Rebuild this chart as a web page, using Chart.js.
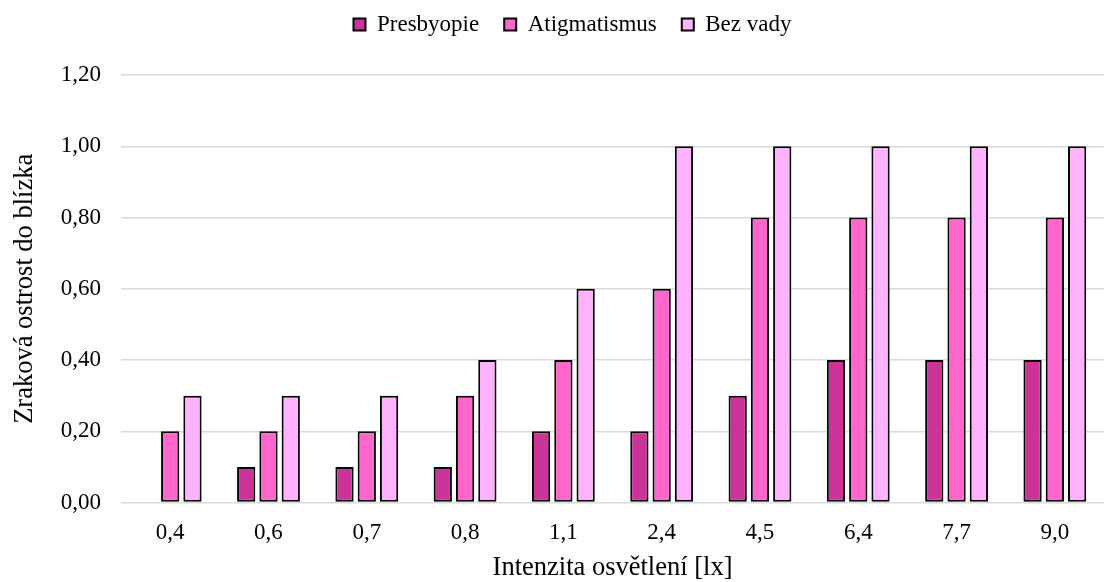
<!DOCTYPE html>
<html>
<head>
<meta charset="utf-8">
<script src="https://cdn.jsdelivr.net/npm/chart.js@4/dist/chart.umd.min.js"></script>
<style>
  html, body { margin: 0; padding: 0; background: #fff; }
  #wrap { width: 1112px; height: 582px; }
</style>
</head>
<body>
<div id="wrap"><canvas id="chart"></canvas></div>
<script>
// --- Data ---
const categories = ['0,4', '0,6', '0,7', '0,8', '1,1', '2,4', '4,5', '6,4', '7,7', '9,0'];
const presbyopie = [0, 0.1, 0.1, 0.1, 0.2, 0.2, 0.3, 0.4, 0.4, 0.4];
const atigmatismus = [0.2, 0.2, 0.2, 0.3, 0.4, 0.6, 0.8, 0.8, 0.8, 0.8];
const bezVady = [0.3, 0.3, 0.3, 0.4, 0.6, 1.0, 1.0, 1.0, 1.0, 1.0];

const FONT = "'Liberation Serif', 'Times New Roman', serif";

const makeSet = (label, data, color) => ({
    label: label,
    data: data,
    backgroundColor: color,
    borderColor: '#000',
    borderWidth: 2,
    borderSkipped: false,
    categoryPercentage: 0.68,
    barPercentage: 0.82
});

// extra space below the legend, and nudge it a bit to the right
const legendMargin = {
    id: 'legendMargin',
    beforeInit(chart) {
        const fit = chart.legend.fit;
        chart.legend.fit = function () {
            fit.bind(chart.legend)();
            this.height += 29;
        };
    },
    afterLayout(chart) {
        chart.legend.left += 16;
        chart.legend.right += 16;
    }
};

new Chart(document.getElementById('chart').getContext('2d'), {
    type: 'bar',
    data: {
        labels: categories,
        datasets: [
            makeSet('Presbyopie', presbyopie, '#CC3399'),
            makeSet('Atigmatismus', atigmatismus, '#FF66CC'),
            makeSet('Bez vady', bezVady, '#FFB3FF')
        ]
    },
    plugins: [legendMargin],
    options: {
        responsive: true,
        maintainAspectRatio: false,
        animation: false,
        layout: { padding: { left: 9, right: 8, top: -12, bottom: 0 } },
        plugins: {
            legend: {
                position: 'top',
                labels: {
                    color: '#000',
                    font: { family: FONT, size: 23 },
                    boxWidth: 12,
                    boxHeight: 12,
                    padding: 25
                }
            },
            tooltip: { enabled: false }
        },
        scales: {
            x: {
                grid: { display: false },
                border: { display: false },
                ticks: { color: '#000', font: { family: FONT, size: 23 }, padding: 9 },
                title: {
                    display: true,
                    text: 'Intenzita osvětlení [lx]',
                    color: '#000',
                    font: { family: FONT, size: 26.5 },
                    padding: { top: -4, bottom: -2 }
                }
            },
            y: {
                min: 0,
                max: 1.2,
                border: { display: false },
                grid: { color: '#d9d9d9', lineWidth: 1.5, drawTicks: false },
                ticks: {
                    stepSize: 0.2,
                    color: '#000',
                    padding: 20,
                    font: { family: FONT, size: 23 },
                    callback: v => v.toFixed(2).replace('.', ',')
                },
                title: {
                    display: true,
                    text: 'Zraková ostrost do blízka',
                    color: '#000',
                    font: { family: FONT, size: 26.5 },
                    padding: { top: 0, bottom: 0 }
                }
            }
        }
    }
});
</script>
</body>
</html>
